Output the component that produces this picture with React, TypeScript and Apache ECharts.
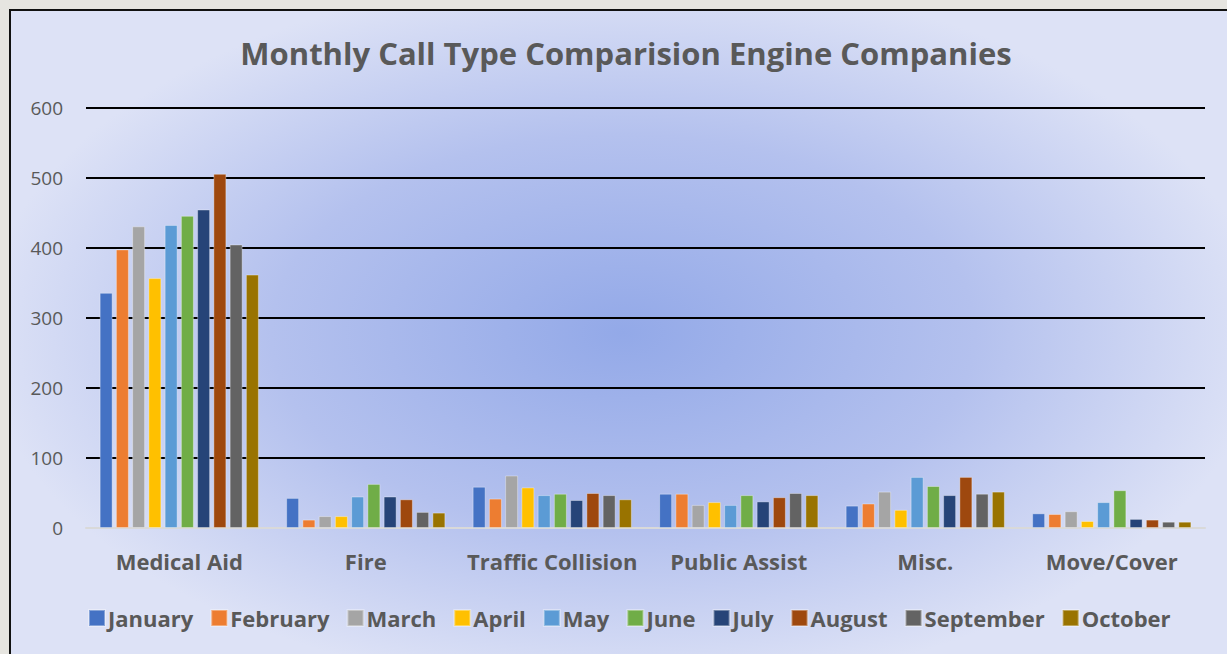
import React, { useEffect, useRef } from "react";
import * as echarts from "echarts";

const categories = ["Medical Aid", "Fire", "Traffic Collision", "Public Assist", "Misc.", "Move/Cover"];
const months = ["January", "February", "March", "April", "May", "June", "July", "August", "September", "October"];

const january = [336, 43, 59, 49, 32, 21];
const february = [398, 12, 42, 49, 35, 20];
const march = [431, 17, 75, 33, 52, 24];
const april = [357, 17, 58, 37, 26, 10];
const may = [433, 45, 47, 33, 73, 37];
const june = [446, 63, 49, 47, 60, 54];
const july = [455, 45, 40, 38, 47, 13];
const august = [506, 41, 50, 44, 73, 12];
const september = [405, 23, 47, 50, 49, 9];
const october = [362, 22, 41, 47, 52, 9];

const seriesValues = [january, february, march, april, may, june, july, august, september, october];
const colors = ["#4472C4", "#ED7D31", "#A5A5A5", "#FFC000", "#5B9BD5", "#70AD47", "#264478", "#9E480E", "#636363", "#997300"];

const FONT = "'Open Sans', Lato, sans-serif";

export default function App() {
  const ref = useRef<HTMLDivElement>(null);
  useEffect(() => {
    if (!ref.current) return;
    const chart = echarts.init(ref.current, undefined, { renderer: "svg" });
    chart.setOption({
      animation: false,
      backgroundColor: "transparent",
      color: colors,
      title: {
        text: "Monthly Call Type Comparision Engine Companies",
        left: 621,
        textAlign: "center",
        top: 32,
        textStyle: { fontFamily: FONT, fontSize: 31, fontWeight: "bold", color: "#595959" },
      },
      legend: {
        bottom: 20,
        left: 83,
        itemWidth: 16,
        itemHeight: 16,
        itemGap: 17,
        icon: "rect",
        textStyle: { fontFamily: FONT, fontSize: 22, fontWeight: "bold", color: "#595959", padding: [0, 0, 0, -2] },
        data: months,
      },
      grid: { left: 86, right: 22, top: 108, bottom: 126, containLabel: false },
      xAxis: {
        type: "category",
        data: categories,
        axisLine: { show: true, lineStyle: { color: "#d9d9d9", width: 2 } },
        axisTick: { show: false },
        axisLabel: { interval: 0, fontFamily: FONT, fontSize: 22, fontWeight: "bold", color: "#595959", margin: 22 },
      },
      yAxis: {
        type: "value",
        min: 0,
        max: 600,
        interval: 100,
        axisLine: { show: false },
        axisTick: { show: false },
        axisLabel: { fontFamily: FONT, fontSize: 19, color: "#595959", margin: 23 },
        splitLine: { show: true, lineStyle: { color: "#000", width: 2 } },
      },
      series: months.map((m, i) => ({
        name: m,
        type: "bar",
        data: seriesValues[i],
        barWidth: 13,
        barGap: "25%",
        itemStyle: { color: colors[i], borderColor: "rgba(255,255,255,0.35)", borderWidth: 1 },
      })),
    });
    return () => chart.dispose();
  }, []);

  return (
    <div style={{ position: "fixed", left: 0, top: 0, width: 1227, height: 654, background: "#e6e5e0", overflow: "hidden" }}>
      <div
        style={{
          position: "absolute",
          left: 9,
          top: 9,
          width: 1240,
          height: 660,
          boxSizing: "border-box",
          border: "2px solid #111",
          background: "radial-gradient(ellipse 640px 360px at 612px 322px, #93a9e8 0%, #b4c1ee 55%, #dde2f6 100%)",
        }}
      />
      <div ref={ref} style={{ position: "absolute", left: 0, top: 0, width: 1227, height: 654 }} />
    </div>
  );
}
